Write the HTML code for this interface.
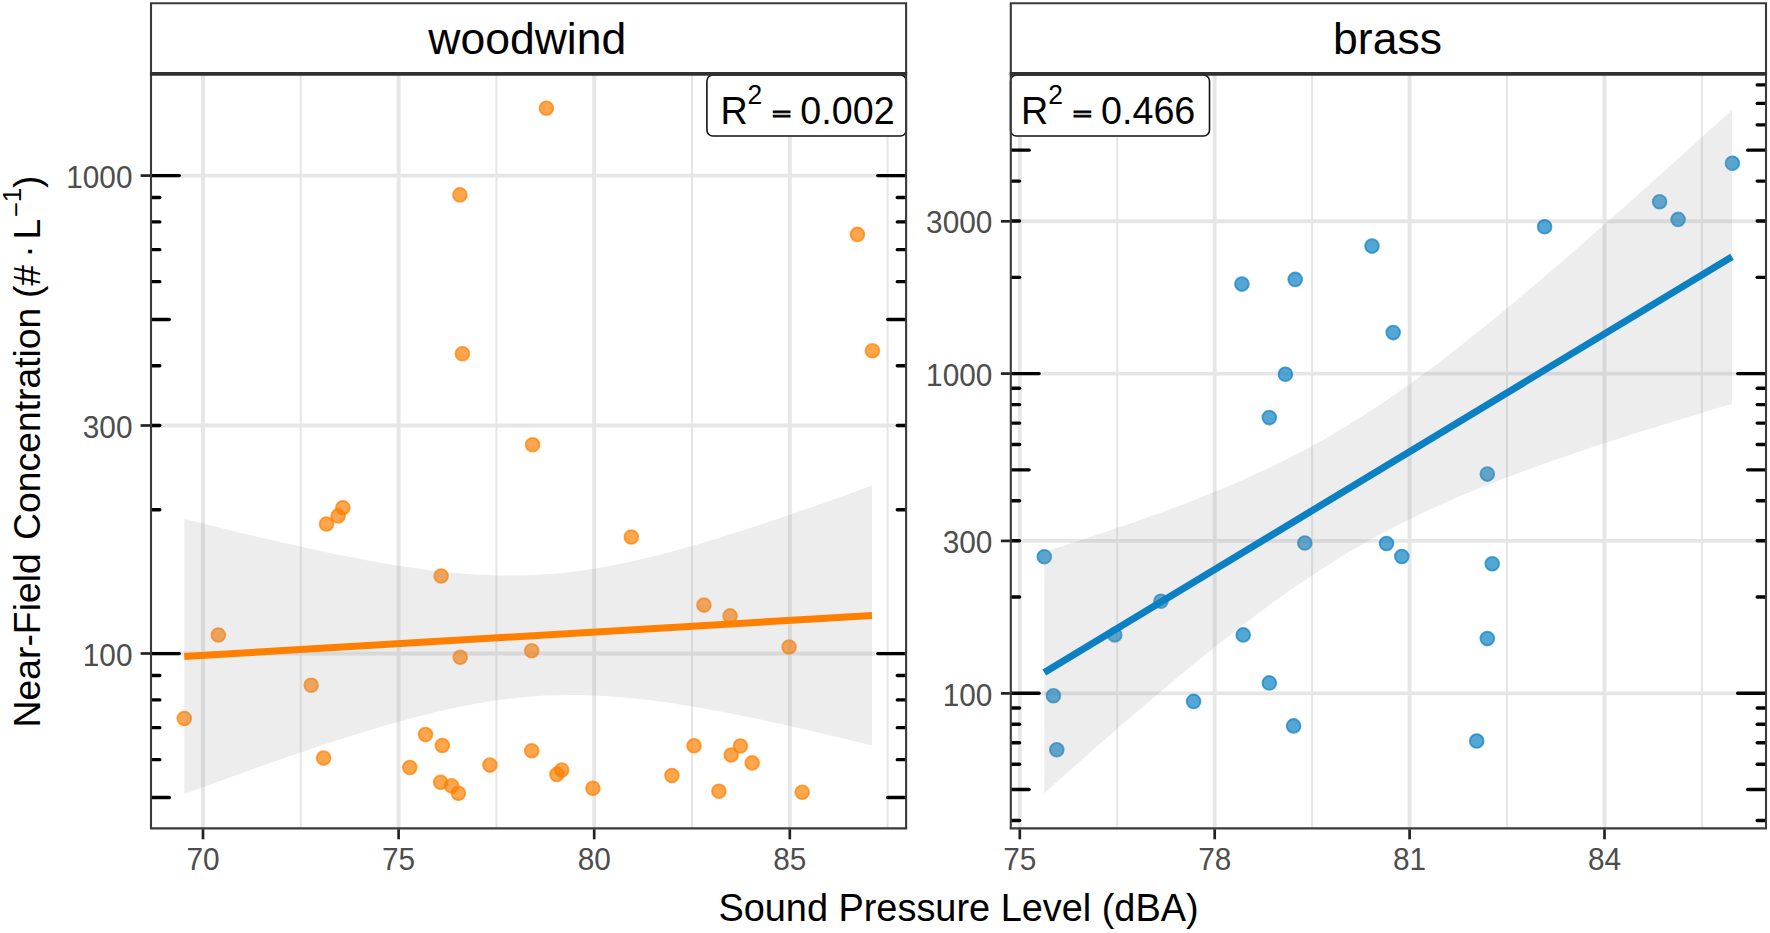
<!DOCTYPE html>
<html lang="en"><head><meta charset="utf-8"><title>Near-Field Concentration vs Sound Pressure Level</title>
<style>html,body{margin:0;padding:0;background:#fff;}body{width:1770px;height:933px;overflow:hidden;}svg{display:block;}text{font-family:"Liberation Sans", Arial, Helvetica, sans-serif;}</style>
</head><body>
<svg width="1770" height="933" viewBox="0 0 1770 933">
<rect x="0" y="0" width="1770" height="933" fill="#ffffff"/>
<defs>
<clipPath id="c1"><rect x="151" y="73.8" width="755.1" height="754.6"/></clipPath>
<clipPath id="c2"><rect x="1010.8" y="73.8" width="755.2" height="754.6"/></clipPath>
</defs>
<g clip-path="url(#c1)">
<g stroke="#e6e6e6" stroke-width="2.0" fill="none">
<line x1="300.8" y1="73.8" x2="300.8" y2="828.4"/>
<line x1="496.4" y1="73.8" x2="496.4" y2="828.4"/>
<line x1="692" y1="73.8" x2="692" y2="828.4"/>
<line x1="887.6" y1="73.8" x2="887.6" y2="828.4"/>
</g>
<g stroke="#e6e6e6" stroke-width="3.9" fill="none">
<line x1="203" y1="73.8" x2="203" y2="828.4"/>
<line x1="398.6" y1="73.8" x2="398.6" y2="828.4"/>
<line x1="594.2" y1="73.8" x2="594.2" y2="828.4"/>
<line x1="789.8" y1="73.8" x2="789.8" y2="828.4"/>
<line x1="151" y1="175.6" x2="906.1" y2="175.6"/>
<line x1="151" y1="425.5" x2="906.1" y2="425.5"/>
<line x1="151" y1="653.5" x2="906.1" y2="653.5"/>
</g>
<g fill="#FF7F00" fill-opacity="0.7" stroke="#FF7F00" stroke-opacity="0.7" stroke-width="1.8">
<circle cx="546.4" cy="108.2" r="6.9"/>
<circle cx="459.9" cy="194.9" r="6.9"/>
<circle cx="857.4" cy="234.4" r="6.9"/>
<circle cx="462.4" cy="353.7" r="6.9"/>
<circle cx="872.4" cy="350.8" r="6.9"/>
<circle cx="532.6" cy="444.7" r="6.9"/>
<circle cx="342.8" cy="507.7" r="6.9"/>
<circle cx="338.1" cy="515.9" r="6.9"/>
<circle cx="326.5" cy="524" r="6.9"/>
<circle cx="631.3" cy="537" r="6.9"/>
<circle cx="441.1" cy="576" r="6.9"/>
<circle cx="703.9" cy="605.1" r="6.9"/>
<circle cx="730.1" cy="615.9" r="6.9"/>
<circle cx="218.3" cy="635" r="6.9"/>
<circle cx="789.1" cy="647" r="6.9"/>
<circle cx="531.7" cy="650.8" r="6.9"/>
<circle cx="460.2" cy="657.3" r="6.9"/>
<circle cx="311.2" cy="685.2" r="6.9"/>
<circle cx="184.3" cy="718.5" r="6.9"/>
<circle cx="425.5" cy="734.5" r="6.9"/>
<circle cx="442.3" cy="745.5" r="6.9"/>
<circle cx="323.6" cy="758.1" r="6.9"/>
<circle cx="409.8" cy="767.5" r="6.9"/>
<circle cx="489.9" cy="765.1" r="6.9"/>
<circle cx="531.7" cy="750.8" r="6.9"/>
<circle cx="440.6" cy="782.3" r="6.9"/>
<circle cx="451.6" cy="785.8" r="6.9"/>
<circle cx="458.4" cy="793.3" r="6.9"/>
<circle cx="561.7" cy="770.1" r="6.9"/>
<circle cx="556.9" cy="774.4" r="6.9"/>
<circle cx="592.9" cy="788.3" r="6.9"/>
<circle cx="671.9" cy="775.5" r="6.9"/>
<circle cx="694" cy="745.7" r="6.9"/>
<circle cx="718.9" cy="791.2" r="6.9"/>
<circle cx="731.2" cy="755" r="6.9"/>
<circle cx="740.4" cy="746" r="6.9"/>
<circle cx="752.2" cy="762.9" r="6.9"/>
<circle cx="802.2" cy="792.3" r="6.9"/>
</g>
<path d="M184.3 518.92 L195.96 521.85 L207.61 524.74 L219.27 527.62 L230.92 530.46 L242.58 533.27 L254.24 536.04 L265.89 538.78 L277.55 541.47 L289.2 544.12 L300.86 546.72 L312.52 549.26 L324.17 551.74 L335.83 554.16 L347.48 556.5 L359.14 558.76 L370.79 560.93 L382.45 563 L394.11 564.96 L405.76 566.8 L417.42 568.5 L429.07 570.06 L440.73 571.45 L452.39 572.67 L464.04 573.7 L475.7 574.52 L487.35 575.11 L499.01 575.47 L510.67 575.58 L522.32 575.44 L533.98 575.02 L545.63 574.34 L557.29 573.39 L568.95 572.18 L580.6 570.7 L592.26 568.98 L603.91 567.01 L615.57 564.83 L627.23 562.43 L638.88 559.84 L650.54 557.08 L662.19 554.15 L673.85 551.07 L685.51 547.85 L697.16 544.51 L708.82 541.07 L720.47 537.52 L732.13 533.87 L743.78 530.15 L755.44 526.35 L767.1 522.49 L778.75 518.56 L790.41 514.58 L802.06 510.54 L813.72 506.46 L825.38 502.34 L837.03 498.18 L848.69 493.99 L860.34 489.76 L872 485.5 L872 745.5 L860.34 742.63 L848.69 739.79 L837.03 736.99 L825.38 734.22 L813.72 731.49 L802.06 728.8 L790.41 726.15 L778.75 723.56 L767.1 721.02 L755.44 718.55 L743.78 716.14 L732.13 713.8 L720.47 711.55 L708.82 709.39 L697.16 707.33 L685.51 705.39 L673.85 703.56 L662.19 701.87 L650.54 700.33 L638.88 698.95 L627.23 697.75 L615.57 696.75 L603.91 695.95 L592.26 695.38 L580.6 695.05 L568.95 694.96 L557.29 695.13 L545.63 695.57 L533.98 696.28 L522.32 697.26 L510.67 698.5 L499.01 700 L487.35 701.75 L475.7 703.74 L464.04 705.95 L452.39 708.36 L440.73 710.97 L429.07 713.75 L417.42 716.7 L405.76 719.79 L394.11 723.02 L382.45 726.37 L370.79 729.83 L359.14 733.39 L347.48 737.04 L335.83 740.77 L324.17 744.58 L312.52 748.45 L300.86 752.38 L289.2 756.37 L277.55 760.41 L265.89 764.49 L254.24 768.62 L242.58 772.78 L230.92 776.98 L219.27 781.21 L207.61 785.48 L195.96 789.76 L184.3 794.08Z" fill="#999999" fill-opacity="0.18"/>
<line x1="184.3" y1="656.5" x2="872" y2="615.5" stroke="#FF7F00" stroke-width="7"/>
<g stroke="#000000" stroke-width="3.4" stroke-linecap="round">
<line x1="151" y1="797.49" x2="169.3" y2="797.49"/>
<line x1="906.1" y1="797.49" x2="887.8" y2="797.49"/>
<line x1="151" y1="759.64" x2="159.8" y2="759.64"/>
<line x1="906.1" y1="759.64" x2="897.3" y2="759.64"/>
<line x1="151" y1="727.64" x2="159.8" y2="727.64"/>
<line x1="906.1" y1="727.64" x2="897.3" y2="727.64"/>
<line x1="151" y1="699.92" x2="159.8" y2="699.92"/>
<line x1="906.1" y1="699.92" x2="897.3" y2="699.92"/>
<line x1="151" y1="675.47" x2="159.8" y2="675.47"/>
<line x1="906.1" y1="675.47" x2="897.3" y2="675.47"/>
<line x1="151" y1="653.6" x2="179.3" y2="653.6"/>
<line x1="906.1" y1="653.6" x2="877.8" y2="653.6"/>
<line x1="151" y1="509.71" x2="159.8" y2="509.71"/>
<line x1="906.1" y1="509.71" x2="897.3" y2="509.71"/>
<line x1="151" y1="425.54" x2="159.8" y2="425.54"/>
<line x1="906.1" y1="425.54" x2="897.3" y2="425.54"/>
<line x1="151" y1="365.82" x2="159.8" y2="365.82"/>
<line x1="906.1" y1="365.82" x2="897.3" y2="365.82"/>
<line x1="151" y1="319.49" x2="169.3" y2="319.49"/>
<line x1="906.1" y1="319.49" x2="887.8" y2="319.49"/>
<line x1="151" y1="281.64" x2="159.8" y2="281.64"/>
<line x1="906.1" y1="281.64" x2="897.3" y2="281.64"/>
<line x1="151" y1="249.64" x2="159.8" y2="249.64"/>
<line x1="906.1" y1="249.64" x2="897.3" y2="249.64"/>
<line x1="151" y1="221.92" x2="159.8" y2="221.92"/>
<line x1="906.1" y1="221.92" x2="897.3" y2="221.92"/>
<line x1="151" y1="197.47" x2="159.8" y2="197.47"/>
<line x1="906.1" y1="197.47" x2="897.3" y2="197.47"/>
<line x1="151" y1="175.6" x2="179.3" y2="175.6"/>
<line x1="906.1" y1="175.6" x2="877.8" y2="175.6"/>
</g>
</g>
<g clip-path="url(#c2)">
<g stroke="#e6e6e6" stroke-width="2.0" fill="none">
<line x1="1117.2" y1="73.8" x2="1117.2" y2="828.4"/>
<line x1="1312.1" y1="73.8" x2="1312.1" y2="828.4"/>
<line x1="1507" y1="73.8" x2="1507" y2="828.4"/>
<line x1="1701.9" y1="73.8" x2="1701.9" y2="828.4"/>
</g>
<g stroke="#e6e6e6" stroke-width="3.9" fill="none">
<line x1="1019.8" y1="73.8" x2="1019.8" y2="828.4"/>
<line x1="1214.7" y1="73.8" x2="1214.7" y2="828.4"/>
<line x1="1409.6" y1="73.8" x2="1409.6" y2="828.4"/>
<line x1="1604.5" y1="73.8" x2="1604.5" y2="828.4"/>
<line x1="1010.8" y1="221.3" x2="1766" y2="221.3"/>
<line x1="1010.8" y1="373.6" x2="1766" y2="373.6"/>
<line x1="1010.8" y1="540.9" x2="1766" y2="540.9"/>
<line x1="1010.8" y1="693.4" x2="1766" y2="693.4"/>
</g>
<g fill="#0b80c3" fill-opacity="0.7" stroke="#0b80c3" stroke-opacity="0.7" stroke-width="1.8">
<circle cx="1732.4" cy="163.2" r="6.9"/>
<circle cx="1659.6" cy="201.8" r="6.9"/>
<circle cx="1678.1" cy="219.4" r="6.9"/>
<circle cx="1544.6" cy="226.7" r="6.9"/>
<circle cx="1372" cy="246.1" r="6.9"/>
<circle cx="1241.9" cy="284.1" r="6.9"/>
<circle cx="1295.2" cy="279.4" r="6.9"/>
<circle cx="1393.2" cy="332.6" r="6.9"/>
<circle cx="1285.4" cy="374.2" r="6.9"/>
<circle cx="1269.3" cy="417.6" r="6.9"/>
<circle cx="1487.3" cy="474.1" r="6.9"/>
<circle cx="1044.3" cy="556.7" r="6.9"/>
<circle cx="1304.8" cy="543" r="6.9"/>
<circle cx="1386.5" cy="543.5" r="6.9"/>
<circle cx="1401.8" cy="556.5" r="6.9"/>
<circle cx="1492.2" cy="563.8" r="6.9"/>
<circle cx="1160.9" cy="601.2" r="6.9"/>
<circle cx="1114.8" cy="634.9" r="6.9"/>
<circle cx="1243.2" cy="634.9" r="6.9"/>
<circle cx="1487.3" cy="638.6" r="6.9"/>
<circle cx="1269.3" cy="682.9" r="6.9"/>
<circle cx="1053.4" cy="695.8" r="6.9"/>
<circle cx="1193.6" cy="701.4" r="6.9"/>
<circle cx="1293.6" cy="725.9" r="6.9"/>
<circle cx="1476.7" cy="741" r="6.9"/>
<circle cx="1056.8" cy="749.7" r="6.9"/>
</g>
<path d="M1044.3 551.81 L1055.96 548.13 L1067.61 544.41 L1079.27 540.64 L1090.92 536.83 L1102.58 532.96 L1114.24 529.04 L1125.89 525.05 L1137.55 521 L1149.2 516.87 L1160.86 512.66 L1172.52 508.35 L1184.17 503.95 L1195.83 499.44 L1207.48 494.82 L1219.14 490.06 L1230.79 485.15 L1242.45 480.1 L1254.11 474.87 L1265.76 469.46 L1277.42 463.86 L1289.07 458.05 L1300.73 452.02 L1312.39 445.76 L1324.04 439.27 L1335.7 432.53 L1347.35 425.54 L1359.01 418.3 L1370.67 410.82 L1382.32 403.09 L1393.98 395.14 L1405.63 386.95 L1417.29 378.56 L1428.95 369.96 L1440.6 361.18 L1452.26 352.22 L1463.91 343.1 L1475.57 333.83 L1487.23 324.43 L1498.88 314.9 L1510.54 305.26 L1522.19 295.51 L1533.85 285.67 L1545.51 275.75 L1557.16 265.74 L1568.82 255.67 L1580.47 245.53 L1592.13 235.33 L1603.78 225.07 L1615.44 214.77 L1627.1 204.42 L1638.75 194.03 L1650.41 183.6 L1662.06 173.14 L1673.72 162.64 L1685.38 152.12 L1697.03 141.57 L1708.69 130.99 L1720.34 120.39 L1732 109.76 L1732 403.84 L1720.34 407.31 L1708.69 410.8 L1697.03 414.31 L1685.38 417.85 L1673.72 421.41 L1662.06 425.01 L1650.41 428.64 L1638.75 432.3 L1627.1 436 L1615.44 439.74 L1603.78 443.53 L1592.13 447.37 L1580.47 451.26 L1568.82 455.21 L1557.16 459.23 L1545.51 463.32 L1533.85 467.48 L1522.19 471.74 L1510.54 476.08 L1498.88 480.53 L1487.23 485.09 L1475.57 489.78 L1463.91 494.6 L1452.26 499.58 L1440.6 504.71 L1428.95 510.02 L1417.29 515.51 L1405.63 521.21 L1393.98 527.12 L1382.32 533.25 L1370.67 539.62 L1359.01 546.23 L1347.35 553.08 L1335.7 560.18 L1324.04 567.54 L1312.39 575.13 L1300.73 582.96 L1289.07 591.03 L1277.42 599.31 L1265.76 607.8 L1254.11 616.48 L1242.45 625.35 L1230.79 634.38 L1219.14 643.57 L1207.48 652.9 L1195.83 662.37 L1184.17 671.95 L1172.52 681.64 L1160.86 691.43 L1149.2 701.31 L1137.55 711.27 L1125.89 721.31 L1114.24 731.42 L1102.58 741.58 L1090.92 751.81 L1079.27 762.09 L1067.61 772.41 L1055.96 782.78 L1044.3 793.19Z" fill="#999999" fill-opacity="0.18"/>
<line x1="1044.3" y1="672.5" x2="1732" y2="256.8" stroke="#0b80c3" stroke-width="7"/>
<g stroke="#000000" stroke-width="3.4" stroke-linecap="round">
<line x1="1010.8" y1="820.52" x2="1019.6" y2="820.52"/>
<line x1="1766" y1="820.52" x2="1757.2" y2="820.52"/>
<line x1="1010.8" y1="789.54" x2="1029.1" y2="789.54"/>
<line x1="1766" y1="789.54" x2="1747.7" y2="789.54"/>
<line x1="1010.8" y1="764.23" x2="1019.6" y2="764.23"/>
<line x1="1766" y1="764.23" x2="1757.2" y2="764.23"/>
<line x1="1010.8" y1="742.82" x2="1019.6" y2="742.82"/>
<line x1="1766" y1="742.82" x2="1757.2" y2="742.82"/>
<line x1="1010.8" y1="724.28" x2="1019.6" y2="724.28"/>
<line x1="1766" y1="724.28" x2="1757.2" y2="724.28"/>
<line x1="1010.8" y1="707.93" x2="1019.6" y2="707.93"/>
<line x1="1766" y1="707.93" x2="1757.2" y2="707.93"/>
<line x1="1010.8" y1="693.3" x2="1039.1" y2="693.3"/>
<line x1="1766" y1="693.3" x2="1737.7" y2="693.3"/>
<line x1="1010.8" y1="597.06" x2="1019.6" y2="597.06"/>
<line x1="1766" y1="597.06" x2="1757.2" y2="597.06"/>
<line x1="1010.8" y1="540.76" x2="1019.6" y2="540.76"/>
<line x1="1766" y1="540.76" x2="1757.2" y2="540.76"/>
<line x1="1010.8" y1="500.82" x2="1019.6" y2="500.82"/>
<line x1="1766" y1="500.82" x2="1757.2" y2="500.82"/>
<line x1="1010.8" y1="469.84" x2="1029.1" y2="469.84"/>
<line x1="1766" y1="469.84" x2="1747.7" y2="469.84"/>
<line x1="1010.8" y1="444.53" x2="1019.6" y2="444.53"/>
<line x1="1766" y1="444.53" x2="1757.2" y2="444.53"/>
<line x1="1010.8" y1="423.12" x2="1019.6" y2="423.12"/>
<line x1="1766" y1="423.12" x2="1757.2" y2="423.12"/>
<line x1="1010.8" y1="404.58" x2="1019.6" y2="404.58"/>
<line x1="1766" y1="404.58" x2="1757.2" y2="404.58"/>
<line x1="1010.8" y1="388.23" x2="1019.6" y2="388.23"/>
<line x1="1766" y1="388.23" x2="1757.2" y2="388.23"/>
<line x1="1010.8" y1="373.6" x2="1039.1" y2="373.6"/>
<line x1="1766" y1="373.6" x2="1737.7" y2="373.6"/>
<line x1="1010.8" y1="277.36" x2="1019.6" y2="277.36"/>
<line x1="1766" y1="277.36" x2="1757.2" y2="277.36"/>
<line x1="1010.8" y1="221.06" x2="1019.6" y2="221.06"/>
<line x1="1766" y1="221.06" x2="1757.2" y2="221.06"/>
<line x1="1010.8" y1="181.12" x2="1019.6" y2="181.12"/>
<line x1="1766" y1="181.12" x2="1757.2" y2="181.12"/>
<line x1="1010.8" y1="150.14" x2="1029.1" y2="150.14"/>
<line x1="1766" y1="150.14" x2="1747.7" y2="150.14"/>
<line x1="1010.8" y1="124.83" x2="1019.6" y2="124.83"/>
<line x1="1766" y1="124.83" x2="1757.2" y2="124.83"/>
<line x1="1010.8" y1="103.42" x2="1019.6" y2="103.42"/>
<line x1="1766" y1="103.42" x2="1757.2" y2="103.42"/>
<line x1="1010.8" y1="84.88" x2="1019.6" y2="84.88"/>
<line x1="1766" y1="84.88" x2="1757.2" y2="84.88"/>
</g>
</g>
<rect x="706.9" y="75" width="199.4" height="61" rx="6" ry="6" fill="#ffffff" stroke="#111111" stroke-width="1.6"/>
<g transform="translate(720.4 123.5) scale(1 1.035)" font-size="37.7" fill="#000000">
<text x="0" y="0">R<tspan font-size="26.4" dy="-18.6">2</tspan></text>
<text x="79.9" y="0">0.002</text>
</g>
<text transform="translate(772.2 120.3) scale(0.85 0.45)" x="0" y="0" font-size="37.6" font-weight="bold" fill="#000000" stroke="#000000" stroke-width="1.9">=</text>
<rect x="1010.5" y="75" width="199" height="61" rx="6" ry="6" fill="#ffffff" stroke="#111111" stroke-width="1.6"/>
<g transform="translate(1021.1 123.5) scale(1 1.035)" font-size="37.7" fill="#000000">
<text x="0" y="0">R<tspan font-size="26.4" dy="-18.6">2</tspan></text>
<text x="79.9" y="0">0.466</text>
</g>
<text transform="translate(1072.9 120.3) scale(0.85 0.45)" x="0" y="0" font-size="37.6" font-weight="bold" fill="#000000" stroke="#000000" stroke-width="1.9">=</text>
<g fill="none" stroke="#3a3a3a">
<path d="M151 828.4 V3.2 H906.1 V828.4" stroke-width="2.1" stroke-linejoin="miter"/>
<line x1="149.95" y1="828.4" x2="907.15" y2="828.4" stroke-width="2.1"/>
<line x1="149.95" y1="73.8" x2="907.15" y2="73.8" stroke-width="3.8" stroke="#303030"/>
</g>
<g fill="none" stroke="#3a3a3a">
<path d="M1010.8 828.4 V3.2 H1766 V828.4" stroke-width="2.1" stroke-linejoin="miter"/>
<line x1="1009.75" y1="828.4" x2="1767.05" y2="828.4" stroke-width="2.1"/>
<line x1="1009.75" y1="73.8" x2="1767.05" y2="73.8" stroke-width="3.8" stroke="#303030"/>
</g>
<text x="527.3" y="54" font-size="44.5" text-anchor="middle" fill="#000000">woodwind</text>
<text x="1387.5" y="54" font-size="44.5" text-anchor="middle" fill="#000000">brass</text>
<g stroke="#222222" stroke-width="2.7" fill="none">
<line x1="203" y1="829.3" x2="203" y2="839.3"/>
<line x1="398.6" y1="829.3" x2="398.6" y2="839.3"/>
<line x1="594.2" y1="829.3" x2="594.2" y2="839.3"/>
<line x1="789.8" y1="829.3" x2="789.8" y2="839.3"/>
<line x1="1019.8" y1="829.3" x2="1019.8" y2="839.3"/>
<line x1="1214.7" y1="829.3" x2="1214.7" y2="839.3"/>
<line x1="1409.6" y1="829.3" x2="1409.6" y2="839.3"/>
<line x1="1604.5" y1="829.3" x2="1604.5" y2="839.3"/>
<line x1="140.6" y1="175.6" x2="150.1" y2="175.6"/>
<line x1="140.6" y1="425.5" x2="150.1" y2="425.5"/>
<line x1="140.6" y1="653.5" x2="150.1" y2="653.5"/>
<line x1="1000.9" y1="221.3" x2="1009.9" y2="221.3"/>
<line x1="1000.9" y1="373.6" x2="1009.9" y2="373.6"/>
<line x1="1000.9" y1="540.9" x2="1009.9" y2="540.9"/>
<line x1="1000.9" y1="693.4" x2="1009.9" y2="693.4"/>
</g>
<g font-size="29.8" fill="#4d4d4d">
<g text-anchor="middle">
<text transform="translate(203 869.5) scale(1 1.05)" x="0" y="0">70</text>
<text transform="translate(398.6 869.5) scale(1 1.05)" x="0" y="0">75</text>
<text transform="translate(594.2 869.5) scale(1 1.05)" x="0" y="0">80</text>
<text transform="translate(789.8 869.5) scale(1 1.05)" x="0" y="0">85</text>
<text transform="translate(1019.8 869.5) scale(1 1.05)" x="0" y="0">75</text>
<text transform="translate(1214.7 869.5) scale(1 1.05)" x="0" y="0">78</text>
<text transform="translate(1409.6 869.5) scale(1 1.05)" x="0" y="0">81</text>
<text transform="translate(1604.5 869.5) scale(1 1.05)" x="0" y="0">84</text>
</g><g text-anchor="end">
<text transform="translate(132.5 187.7) scale(1 1.05)" x="0" y="0">1000</text>
<text transform="translate(132.5 437.6) scale(1 1.05)" x="0" y="0">300</text>
<text transform="translate(132.5 665.6) scale(1 1.05)" x="0" y="0">100</text>
<text transform="translate(992.4 233.4) scale(1 1.05)" x="0" y="0">3000</text>
<text transform="translate(992.4 385.7) scale(1 1.05)" x="0" y="0">1000</text>
<text transform="translate(992.4 553) scale(1 1.05)" x="0" y="0">300</text>
<text transform="translate(992.4 705.5) scale(1 1.05)" x="0" y="0">100</text>
</g></g>
<text x="958.5" y="921.3" font-size="37.9" text-anchor="middle" fill="#000000">Sound Pressure Level (dBA)</text>
<text transform="translate(40.2 727.4) rotate(-90)" x="0" y="0" font-size="37.3" fill="#000000">Near-Field <tspan x="187.5">Concentration </tspan><tspan x="429.3">(# </tspan><tspan x="469.6">· </tspan><tspan x="487.8">L</tspan><tspan x="510.1" font-size="25.9" dy="-15.6">−</tspan><tspan font-size="25.9" dy="-3.2">1</tspan><tspan x="539.4" dy="18.8">)</tspan></text>
</svg>
</body></html>
